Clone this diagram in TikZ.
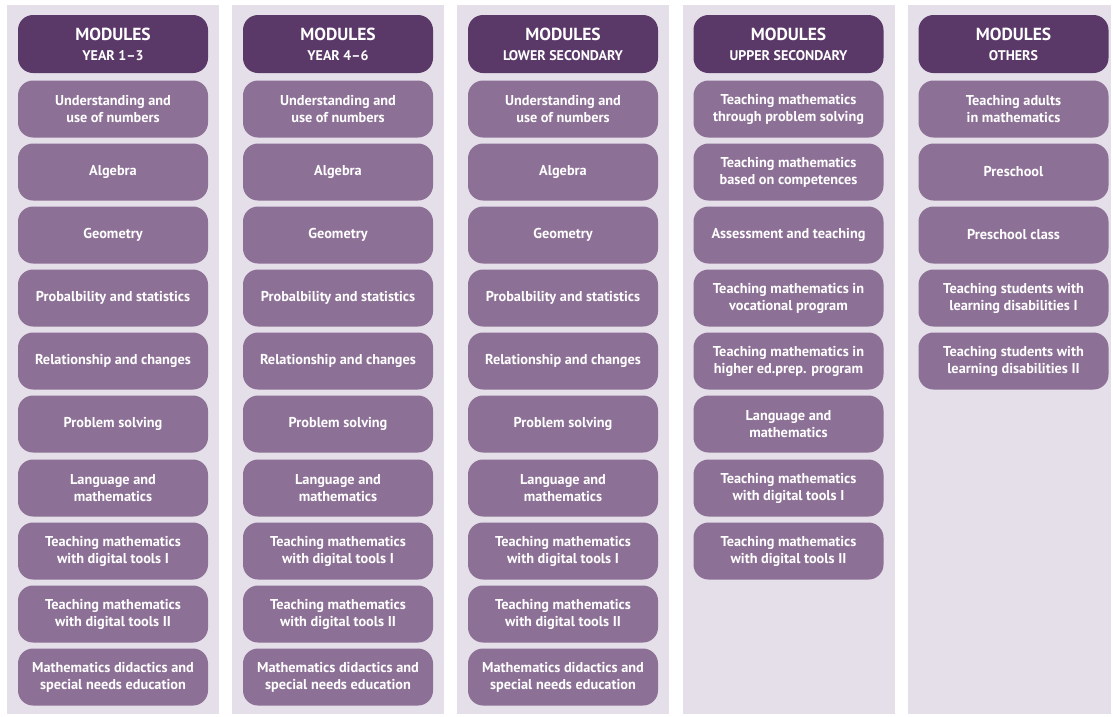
\documentclass[tikz,border=0pt]{standalone}
\usepackage{fontspec}
\setsansfont{PT Sans}
\definecolor{colbg}{HTML}{E4DFE8}
\definecolor{headpurple}{HTML}{5A3868}
\definecolor{boxpurple}{HTML}{8D7096}
\begin{document}
\begin{tikzpicture}[
			x=1pt, y=-1pt,
			every node/.style={font=\sffamily\bfseries, text=white, align=center},
			colrect/.style={fill=colbg},
			head/.style={fill=headpurple, rounded corners=15pt, minimum width=190pt, minimum height=58pt, font=\sffamily\bfseries\fontsize{14}{20}\selectfont},
			box/.style={fill=boxpurple, rounded corners=15pt, minimum width=190pt, minimum height=57pt, font=\sffamily\bfseries\fontsize{14.3}{17}\selectfont}
			]
			\useasboundingbox (0,0) rectangle (1113,716);
			\newcommand{\modtitle}[1]{{\fontsize{17.5}{20}\selectfont MODULES}\\#1}
			
			% column backgrounds
			\fill[colrect] (7,5) rectangle (219,714);
			\fill[colrect] (232,5) rectangle (444,714);
			\fill[colrect] (457,5) rectangle (669,714);
			\fill[colrect] (683,5) rectangle (895,714);
			\fill[colrect] (908,5) rectangle (1111,714);
			
			% Year 1-3
			\node (y13_head) [head] at (113,44) {\modtitle{YEAR 1--3}};
			\node (y13_num) [box] at (113,109) {Understanding and\\use of numbers};
			\node (y13_alg) [box] at (113,172) {Algebra};
			\node (y13_geo) [box] at (113,235) {Geometry};
			\node (y13_prob) [box] at (113,298) {Probalbility and statistics};
			\node (y13_rel) [box] at (113,361) {Relationship and changes};
			\node (y13_ps) [box] at (113,424) {Problem solving};
			\node (y13_lang) [box] at (113,488) {Language and\\mathematics};
			\node (y13_dig1) [box] at (113,551) {Teaching mathematics\\with digital tools I};
			\node (y13_dig2) [box] at (113,614) {Teaching mathematics\\with digital tools II};
			\node (y13_sne) [box] at (113,677) {Mathematics didactics and\\special needs education};
			
			% Year 4-6
			\node (y46_head) [head] at (338,44) {\modtitle{YEAR 4--6}};
			\node (y46_num) [box] at (338,109) {Understanding and\\use of numbers};
			\node (y46_alg) [box] at (338,172) {Algebra};
			\node (y46_geo) [box] at (338,235) {Geometry};
			\node (y46_prob) [box] at (338,298) {Probalbility and statistics};
			\node (y46_rel) [box] at (338,361) {Relationship and changes};
			\node (y46_ps) [box] at (338,424) {Problem solving};
			\node (y46_lang) [box] at (338,488) {Language and\\mathematics};
			\node (y46_dig1) [box] at (338,551) {Teaching mathematics\\with digital tools I};
			\node (y46_dig2) [box] at (338,614) {Teaching mathematics\\with digital tools II};
			\node (y46_sne) [box] at (338,677) {Mathematics didactics and\\special needs education};
			
			% Lower secondary
			\node (low_head) [head] at (563,44) {\modtitle{LOWER SECONDARY}};
			\node (low_num) [box] at (563,109) {Understanding and\\use of numbers};
			\node (low_alg) [box] at (563,172) {Algebra};
			\node (low_geo) [box] at (563,235) {Geometry};
			\node (low_prob) [box] at (563,298) {Probalbility and statistics};
			\node (low_rel) [box] at (563,361) {Relationship and changes};
			\node (low_ps) [box] at (563,424) {Problem solving};
			\node (low_lang) [box] at (563,488) {Language and\\mathematics};
			\node (low_dig1) [box] at (563,551) {Teaching mathematics\\with digital tools I};
			\node (low_dig2) [box] at (563,614) {Teaching mathematics\\with digital tools II};
			\node (low_sne) [box] at (563,677) {Mathematics didactics and\\special needs education};
			
			% Upper secondary
			\node (up_head) [head] at (788.5,44) {\modtitle{UPPER SECONDARY}};
			\node (up_ps) [box] at (788.5,109) {Teaching mathematics\\through problem solving};
			\node (up_comp) [box] at (788.5,172) {Teaching mathematics\\based on competences};
			\node (up_ass) [box] at (788.5,235) {Assessment and teaching};
			\node (up_voc) [box] at (788.5,298) {Teaching mathematics in\\vocational program};
			\node (up_high) [box] at (788.5,361) {Teaching mathematics in\\higher ed.prep. program};
			\node (up_lang) [box] at (788.5,424) {Language and\\mathematics};
			\node (up_dig1) [box] at (788.5,488) {Teaching mathematics\\with digital tools I};
			\node (up_dig2) [box] at (788.5,551) {Teaching mathematics\\with digital tools II};
			
			% Others
			\node (oth_head) [head] at (1013.5,44) {\modtitle{OTHERS}};
			\node (oth_adult) [box] at (1013.5,109) {Teaching adults\\in mathematics};
			\node (oth_pre) [box] at (1013.5,172) {Preschool};
			\node (oth_class) [box] at (1013.5,235) {Preschool class};
			\node (oth_ld1) [box] at (1013.5,298) {Teaching students with\\learning disabilities I};
			\node (oth_ld2) [box] at (1013.5,361) {Teaching students with\\learning disabilities II};
		\end{tikzpicture}
\end{document}
